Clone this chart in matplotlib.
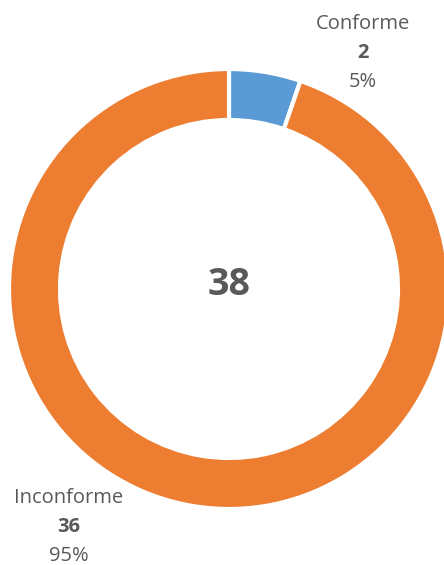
import matplotlib
matplotlib.use("Agg")
import matplotlib.pyplot as plt

categories = ["Conforme", "Inconforme"]
values = [2, 36]
colors = ["#5B9BD5", "#ED7D31"]

total = sum(values)
W, H = 444, 565
fig = plt.figure(figsize=(W / 100, H / 100), dpi=100)
ax = fig.add_axes([0, 0, 1, 1])

cx, cy, R = 229, H - 289, 220
ax.pie(values, colors=colors, startangle=90, counterclock=False,
       radius=R, center=(cx, cy), frame=True,
       wedgeprops=dict(width=51, edgecolor="white", linewidth=3))
ax.set_xlim(0, W)
ax.set_ylim(0, H)
ax.set_aspect("auto")
ax.axis("off")

font = "Open Sans"
gray = "#595959"
ax.text(cx, cy + 4, str(total), ha="center", va="center", fontsize=27,
        fontweight="bold", color=gray, family=font)

label_pos = [(363, 24), (69, 498)]
for cat, v, (lx, ly) in zip(categories, values, label_pos):
    pct = f"{round(v / total * 100)}%"
    ax.text(lx, H - ly, cat, ha="center", va="center", fontsize=14.5, color=gray, family=font)
    ax.text(lx, H - ly - 29, str(v), ha="center", va="center", fontsize=14.5,
            fontweight="bold", color=gray, family=font)
    ax.text(lx, H - ly - 58, pct, ha="center", va="center", fontsize=14.5, color=gray, family=font)

fig.savefig("out.png", dpi=100)
